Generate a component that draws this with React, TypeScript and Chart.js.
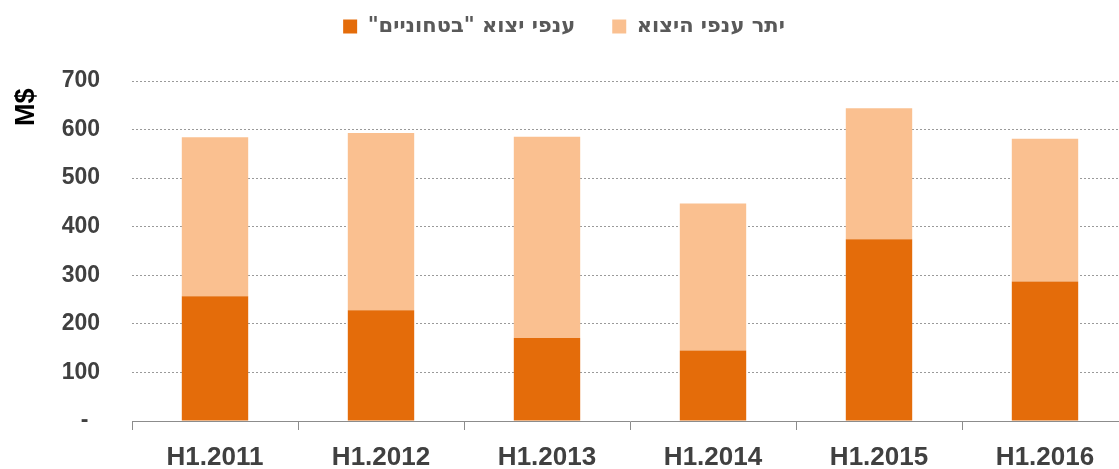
import React, { useEffect, useRef } from "react";
import { Chart, registerables } from "chart.js";

Chart.register(...registerables);

const categories = ["H1.2011", "H1.2012", "H1.2013", "H1.2014", "H1.2015", "H1.2016"];
const defenseExports = [257, 228, 171, 145, 374, 287];
const otherExports = [327, 365, 414, 303, 270, 294];
// trailing RLM keeps the closing quote inside the right-to-left run
const seriesLabels = ['ענפי יצוא "בטחוניים"\u200F', "יתר ענפי היצוא"];
const yTicks = [0, 100, 200, 300, 400, 500, 600, 700];

const FONT = "'Liberation Sans', Arial, sans-serif";
const LEGEND_FONT = "'DejaVu Sans', 'Liberation Sans', sans-serif";

export default function App() {
  const ref = useRef<HTMLCanvasElement | null>(null);

  useEffect(() => {
    if (!ref.current) return;
    const legendShift = {
      id: "legendShift",
      afterLayout(chart: any) {
        const l = chart.legend;
        if (l) {
          l.top -= 34;
          l.bottom -= 34;
        }
      },
    };
    const chart = new Chart(ref.current, {
      type: "bar",
      data: {
        labels: categories,
        datasets: [
          {
            label: seriesLabels[0],
            data: defenseExports,
            backgroundColor: "#E46C0A",
            barPercentage: 0.4,
            categoryPercentage: 1,
          },
          {
            label: seriesLabels[1],
            data: otherExports,
            backgroundColor: "#FAC090",
            barPercentage: 0.4,
            categoryPercentage: 1,
          },
        ],
      },
      options: {
        responsive: false,
        animation: false,
        devicePixelRatio: 1,
        layout: { padding: { top: 13, left: 0, right: 0, bottom: 0 } },
        plugins: {
          tooltip: { enabled: false },
          legend: {
            position: "top",
            labels: {
              boxWidth: 14,
              boxHeight: 14,
              padding: 37,
              color: "#595959",
              font: { family: LEGEND_FONT, size: 21, weight: "bold" },
            },
          },
        },
        scales: {
          x: {
            stacked: true,
            afterFit(scale: any) {
              scale.height = 48;
            },
            grid: {
              display: true,
              offset: true,
              drawOnChartArea: false,
              drawTicks: true,
              tickLength: 9,
              color: "#8c8c8c",
              lineWidth: 1,
            },
            border: { display: true, color: "#8c8c8c", width: 1 },
            ticks: {
              padding: 12,
              color: "#404040",
              font: { family: FONT, size: 26, weight: "bold" },
              maxRotation: 0,
            },
          },
          y: {
            stacked: true,
            min: 0,
            max: 700,
            afterFit(scale: any) {
              scale.width = 132;
            },
            afterBuildTicks(scale: any) {
              scale.ticks = yTicks.map((v) => ({ value: v }));
            },
            grid: {
              drawTicks: false,
              color: (ctx: any) => (ctx.tick && ctx.tick.value === 0 ? "rgba(0,0,0,0)" : "#9a9a9a"),
              lineWidth: 1,
            },
            border: { display: false, dash: [2, 2] },
            ticks: {
              padding: 32,
              color: "#404040",
              font: { family: FONT, size: 23, weight: "bold" },
              callback: (v: any) => (Number(v) === 0 ? "-\u2002" : String(v)),
            },
            title: {
              display: true,
              text: "M$\u00A0",
              align: "end",
              color: "#000000",
              font: { family: FONT, size: 27, weight: "bold" },
              padding: { top: 10, bottom: 0 },
            },
          },
        },
      },
      plugins: [legendShift],
    } as any);
    return () => chart.destroy();
  }, []);

  return (
    <div
      style={{
        position: "fixed",
        left: 0,
        top: 0,
        width: 1119,
        height: 469,
        overflow: "hidden",
        background: "#ffffff",
      }}
    >
      <canvas ref={ref} width={1128} height={469} style={{ display: "block", width: 1128, height: 469 }} />
    </div>
  );
}
